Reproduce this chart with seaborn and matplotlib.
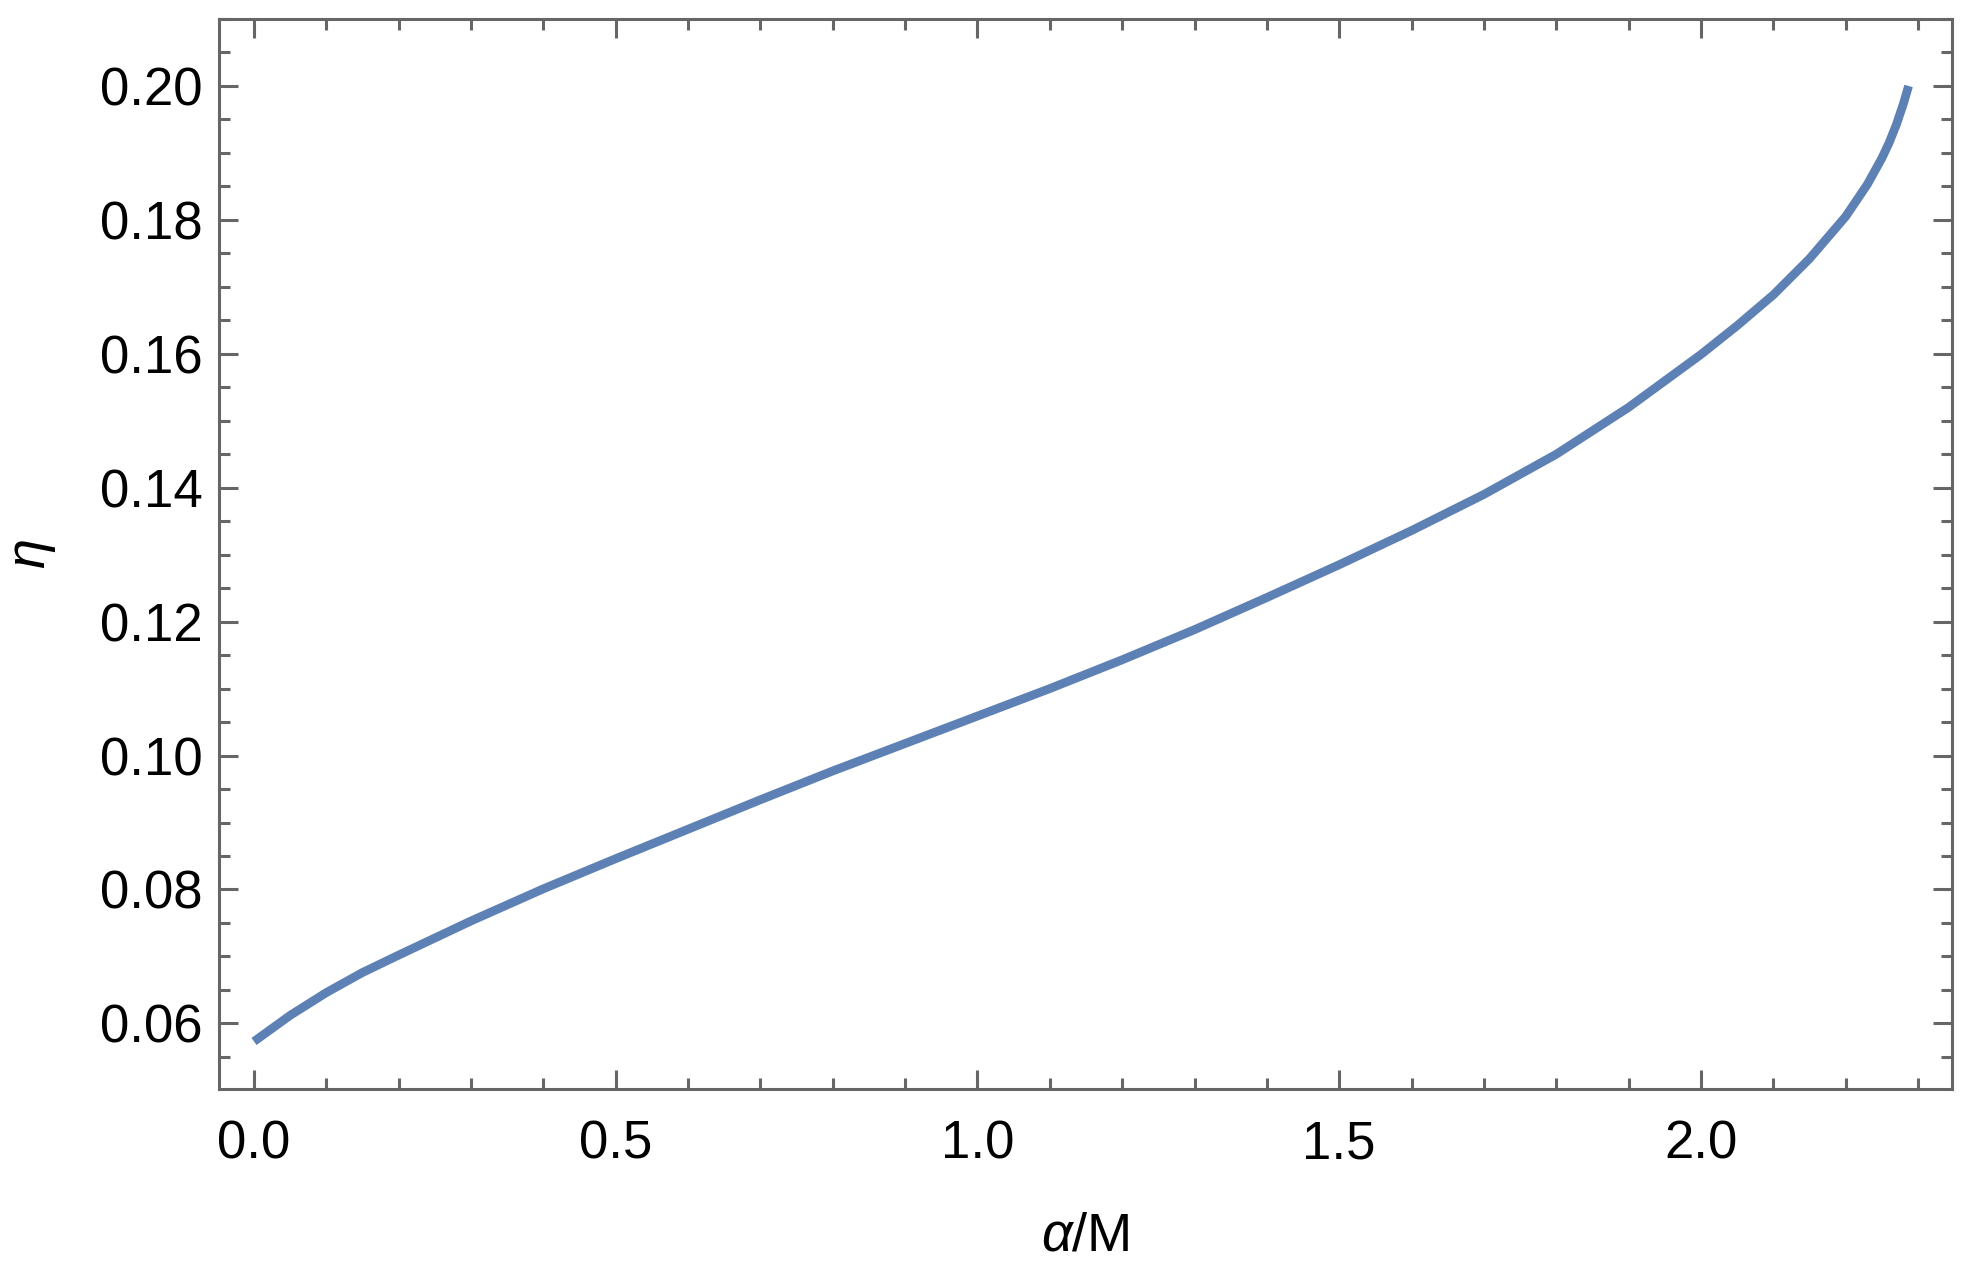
import numpy as np
import pandas as pd
import matplotlib
matplotlib.use("Agg")
import matplotlib.pyplot as plt
from matplotlib.ticker import MultipleLocator
import seaborn as sns

# data
alpha_over_M = [0.0, 0.05, 0.1, 0.15, 0.2, 0.3, 0.4, 0.5, 0.6, 0.7, 0.8, 0.9,
                1.0, 1.1, 1.2, 1.3, 1.4, 1.5, 1.6, 1.7, 1.8, 1.9, 2.0, 2.05,
                2.1, 2.15, 2.2, 2.23, 2.25, 2.26, 2.27, 2.28, 2.287]
eta = [0.0573, 0.0612, 0.0646, 0.0676, 0.0702, 0.0753, 0.0801, 0.0846, 0.0890,
       0.0934, 0.0977, 0.1018, 0.1059, 0.1100, 0.1143, 0.1188, 0.1236, 0.1285,
       0.1336, 0.1390, 0.1450, 0.1520, 0.1599, 0.1642, 0.1688, 0.1742, 0.1805,
       0.1853, 0.1892, 0.1915, 0.1942, 0.1974, 0.2000]

x_major = [0.0, 0.5, 1.0, 1.5, 2.0]
y_major = [0.06, 0.08, 0.10, 0.12, 0.14, 0.16, 0.18, 0.20]

df = pd.DataFrame({"x": alpha_over_M, "eta": eta})

sns.set_theme(style="ticks")
plt.rcParams["font.family"] = ["Liberation Sans", "DejaVu Sans"]
plt.rcParams["mathtext.fontset"] = "custom"
plt.rcParams["mathtext.rm"] = "Liberation Sans"
plt.rcParams["mathtext.it"] = "Liberation Sans:italic"

frame = "#666666"
fig = plt.figure(figsize=(19.75, 12.8), dpi=100)
ax = fig.add_axes([219 / 1975, 1 - 1089 / 1280, (1952 - 219) / 1975, (1089 - 19) / 1280])

sns.lineplot(data=df, x="x", y="eta", ax=ax, color="#5E81B5", linewidth=6.3,
             solid_capstyle="butt", solid_joinstyle="round", sort=False)

ax.set_xlim(-0.0484, 2.347)
ax.set_ylim(0.0502, 0.2100)
ax.set_xticks(x_major)
ax.set_yticks(y_major)
ax.set_xticklabels([f"{v:.1f}" for v in x_major])
ax.set_yticklabels([f"{v:.2f}" for v in y_major])
ax.xaxis.set_minor_locator(MultipleLocator(0.1))
ax.yaxis.set_minor_locator(MultipleLocator(0.005))

for s in ax.spines.values():
    s.set_visible(True)
    s.set_color(frame)
    s.set_linewidth(2.2)

ax.tick_params(which="both", direction="in", top=True, right=True, color=frame,
               width=2.2, labelsize=38, labelcolor="black")
ax.tick_params(which="major", length=14)
ax.tick_params(which="minor", length=8)
ax.tick_params(axis="x", which="major", pad=22)
ax.tick_params(axis="y", which="major", pad=12)

ax.set_xlabel(r"$\alpha$/M", fontsize=39, labelpad=30, color="black")
ax.set_ylabel(r"$\eta$", fontsize=39, labelpad=30, color="black")

fig.savefig("out.png", dpi=100, facecolor="white")
